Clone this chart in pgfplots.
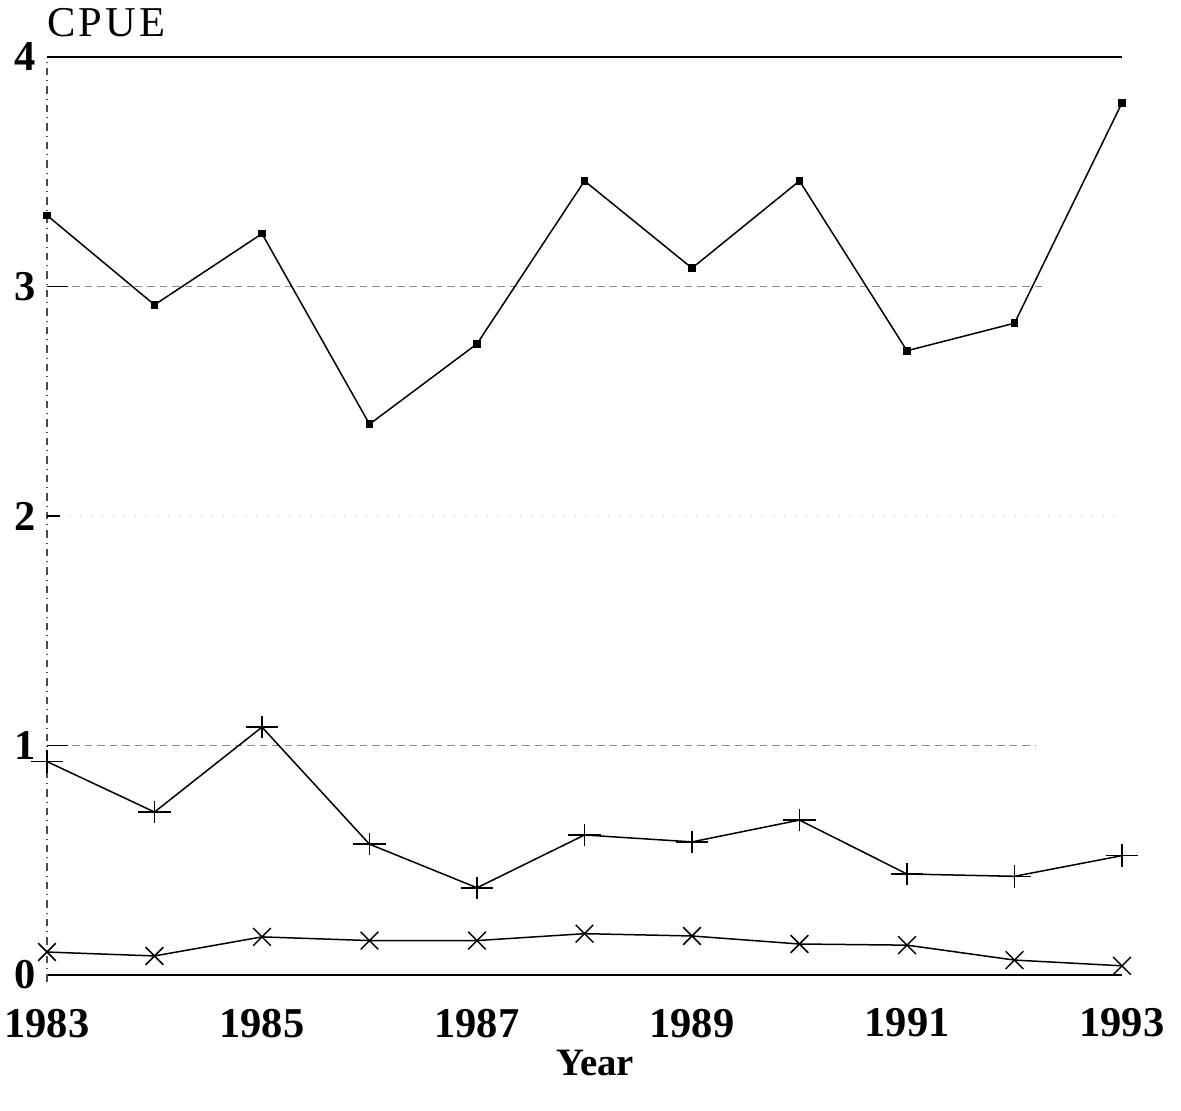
\documentclass[border=0pt]{standalone}
\usepackage{pgfplots}
\pgfplotsset{compat=1.18}
\usepackage{fontspec}
\setmainfont{Liberation Serif}
\begin{document}
\begin{tikzpicture}
\path[use as bounding box] (-18.8pt,-54.4pt) rectangle (453.6pt,390pt);
\begin{axis}[
  scale only axis,
  width=430pt, height=367.2pt,
  xmin=1983, xmax=1993, ymin=0, ymax=4,
  axis line style={draw=none},
  xtick={1983,1985,1987,1989,1991,1993},
  ytick={0,1,2,3,4},
  xticklabels={1983,1985,1987,1989,1991,1993},
  yticklabels={0,1,2,3,4},
  tick style={draw=none},
  /pgf/number format/assume math mode=true,
  ticklabel style={font=\bfseries\fontsize{17}{17}\selectfont},
  xticklabel style={yshift=-10pt},
  yticklabel style={xshift=-1pt},
  clip=false,
]
% frame and grid lines
\draw[black, line width=0.9pt] (axis cs:1983,4) -- (axis cs:1993,4);
\draw[black, line width=0.9pt] (axis cs:1983,0) -- (axis cs:1993,0);
\draw[black!70, dash dot, line width=0.5pt] (axis cs:1983,-0.03) -- (axis cs:1983,4);
\draw[black!45, densely dashed, line width=0.4pt] (axis cs:1983,3) -- (axis cs:1992.3,3);
\draw[black!45, densely dashed, line width=0.4pt] (axis cs:1983,1) -- (axis cs:1992.2,1);
\draw[black!25, loosely dotted, line width=0.4pt] (axis cs:1983,2) -- (axis cs:1993,2);
\draw[black, line width=0.6pt] (axis cs:1983,3) -- (axis cs:1983.2,3);
\draw[black, line width=0.6pt] (axis cs:1983,2) -- (axis cs:1983.12,2);
\draw[black, line width=0.6pt] (axis cs:1983,1) -- (axis cs:1983.2,1);
\addplot[black, line width=0.6pt, mark=square*, mark size=1.2pt] coordinates {
(1983,3.31) (1984,2.92) (1985,3.23) (1986,2.40) (1987,2.75) (1988,3.46)
(1989,3.08) (1990,3.46) (1991,2.72) (1992,2.84) (1993,3.80)};
\addplot[black, line width=0.6pt, mark=+, mark size=5pt,
  mark options={xscale=1.3, yscale=0.9}] coordinates {
(1983,0.93) (1984,0.71) (1985,1.08) (1986,0.57) (1987,0.38) (1988,0.61)
(1989,0.58) (1990,0.675) (1991,0.44) (1992,0.43) (1993,0.52)};
\addplot[black, line width=0.6pt, mark=x, mark size=5pt] coordinates {
(1983,0.10) (1984,0.083) (1985,0.166) (1986,0.15) (1987,0.15) (1988,0.18)
(1989,0.17) (1990,0.135) (1991,0.13) (1992,0.065) (1993,0.04)};
\node[anchor=south west, inner sep=0pt, yshift=8pt, font=\fontsize{17}{17}\selectfont\addfontfeature{LetterSpace=7}] at (axis description cs:0,1) {CPUE};
\node[anchor=north, inner sep=0pt, font=\bfseries\fontsize{15.5}{15.5}\selectfont] at (axis description cs:0.51,-0.0) [yshift=-30pt] {Year};
\end{axis}
\end{tikzpicture}
\end{document}
